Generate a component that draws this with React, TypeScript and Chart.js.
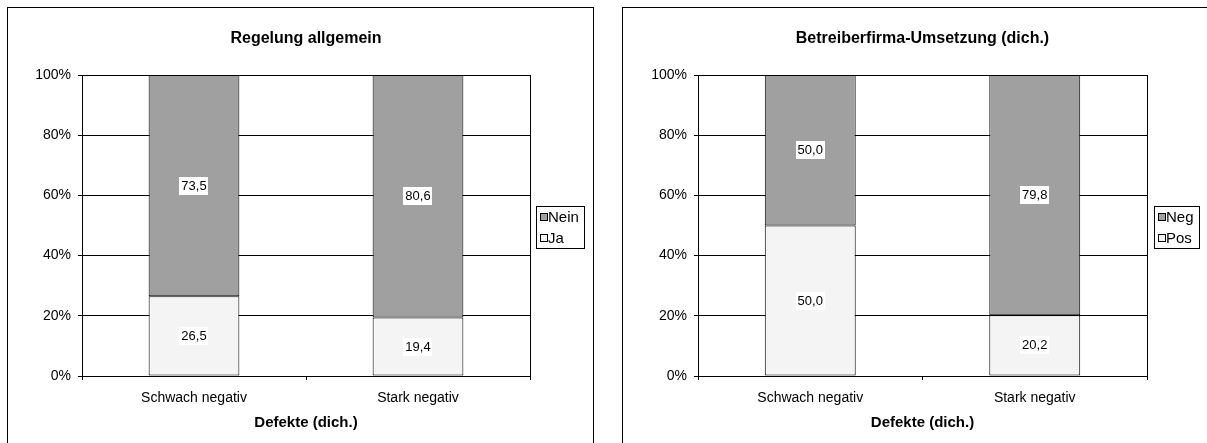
import React, { useEffect, useRef } from "react";
import { Chart, registerables } from "chart.js";

Chart.register(...registerables);

const categories = ["Schwach negativ", "Stark negativ"];
const xAxisTitle = "Defekte (dich.)";
const yTickValues = [0, 20, 40, 60, 80, 100];

const leftTitle = "Regelung allgemein";
const leftLowerName = "Ja";
const leftUpperName = "Nein";
const leftLower = [26.5, 19.4];
const leftUpper = [73.5, 80.6];

const rightTitle = "Betreiberfirma-Umsetzung (dich.)";
const rightLowerName = "Pos";
const rightUpperName = "Neg";
const rightLower = [50.0, 20.2];
const rightUpper = [50.0, 79.8];

const FONT = "'Liberation Sans', Arial, sans-serif";
const DARK = "#a0a0a0";
const LIGHT = "#f4f4f4";

const excelPlugin = {
  id: "excelDecor",
  afterDatasetsDraw(chart: any) {
    const ctx = chart.ctx;
    const { left, right, top, bottom } = chart.chartArea;
    ctx.save();
    ctx.strokeStyle = "#000";
    ctx.lineWidth = 1;
    ctx.strokeRect(Math.round(left) + 0.5, Math.round(top) + 0.5, Math.round(right - left), Math.round(bottom - top));
    ctx.font = "13px " + FONT;
    ctx.textAlign = "center";
    ctx.textBaseline = "middle";
    chart.data.datasets.forEach((ds: any, i: number) => {
      const meta = chart.getDatasetMeta(i);
      meta.data.forEach((bar: any, j: number) => {
        const v = ds.data[j];
        const text = v.toFixed(1).replace(".", ",");
        const cy = (bar.y + bar.base) / 2;
        const w = ctx.measureText(text).width;
        ctx.fillStyle = "#fff";
        ctx.fillRect(Math.round(bar.x - w / 2 - 2), Math.round(cy - 9), Math.round(w + 4), 18);
        ctx.fillStyle = "#000";
        ctx.fillText(text, bar.x, cy + 0.5);
      });
    });
    ctx.restore();
  },
  afterDraw(chart: any) {
    const ctx = chart.ctx;
    const opts = chart.options.plugins.excelDecor;
    const { left, right, top, bottom } = chart.chartArea;
    ctx.save();
    ctx.font = "bold 16px " + FONT;
    ctx.fillStyle = "#000";
    ctx.textAlign = "center";
    ctx.textBaseline = "middle";
    ctx.fillText(opts.title, (left + right) / 2, 31);
    const items = opts.legend as { label: string; color: string }[];
    ctx.font = "15px " + FONT;
    let maxW = 0;
    items.forEach((it) => (maxW = Math.max(maxW, ctx.measureText(it.label).width)));
    const bw = Math.round(maxW + 17);
    const bh = 42;
    const bx = Math.round(right) + opts.gap;
    const by = Math.round((top + bottom) / 2 - 20);
    ctx.fillStyle = "#fff";
    ctx.fillRect(bx, by, bw, bh);
    ctx.strokeStyle = "#000";
    ctx.lineWidth = 1;
    ctx.strokeRect(bx + 0.5, by + 0.5, bw, bh);
    items.forEach((it, k) => {
      const cy = by + 11 + k * 21;
      ctx.fillStyle = it.color;
      ctx.fillRect(bx + 4, cy - 3, 7, 7);
      ctx.strokeStyle = "#000";
      ctx.strokeRect(bx + 4.5, cy - 3.5, 7, 7);
      ctx.fillStyle = "#000";
      ctx.textAlign = "left";
      ctx.textBaseline = "middle";
      ctx.fillText(it.label, bx + 12, cy + 1);
    });
    ctx.restore();
  },
};

type PanelProps = {
  left: number;
  width: number;
  title: string;
  lower: number[];
  upper: number[];
  lowerName: string;
  upperName: string;
  yAxisWidth: number;
  rightPad: number;
  gap: number;
};

function Panel(p: PanelProps) {
  const ref = useRef<HTMLCanvasElement | null>(null);
  const cw = p.width - 2;
  const ch = 460;
  useEffect(() => {
    if (!ref.current) return;
    const common = {
      borderColor: "#000",
      borderWidth: 1,
      borderSkipped: false,
      barPercentage: 0.405,
      categoryPercentage: 1,
    };
    const chart = new Chart(ref.current, {
      type: "bar",
      data: {
        labels: categories,
        datasets: [
          { label: p.lowerName, data: p.lower, backgroundColor: LIGHT, ...common },
          { label: p.upperName, data: p.upper, backgroundColor: DARK, ...common },
        ],
      },
      options: {
        responsive: false,
        animation: false,
        devicePixelRatio: 1,
        layout: { padding: { top: 67, right: p.rightPad, bottom: 32, left: 0 } },
        plugins: {
          legend: { display: false },
          tooltip: { enabled: false },
          excelDecor: {
            title: p.title,
            gap: p.gap,
            legend: [
              { label: p.upperName, color: DARK },
              { label: p.lowerName, color: LIGHT },
            ],
          },
        } as any,
        scales: {
          x: {
            stacked: true,
            offset: true,
            grid: {
              offset: true,
              drawOnChartArea: false,
              drawTicks: true,
              tickLength: 4,
              color: "#000",
            },
            border: { display: true, color: "#000", width: 1 },
            ticks: {
              color: "#000",
              font: { family: FONT, size: 14 },
              padding: 10,
              maxRotation: 0,
            },
            title: {
              display: true,
              text: xAxisTitle,
              color: "#000",
              font: { family: FONT, size: 15, weight: "bold" },
              padding: { top: 2, bottom: 4 },
            },
            afterFit(scale: any) {
              scale.height = 60;
            },
          },
          y: {
            stacked: true,
            min: 0,
            max: 100,
            afterBuildTicks(scale: any) {
              scale.ticks = yTickValues.map((v) => ({ value: v }));
            },
            grid: {
              color: "#000",
              drawTicks: true,
              tickLength: 4,
            },
            border: { display: true, color: "#000", width: 1 },
            ticks: {
              color: "#000",
              font: { family: FONT, size: 14 },
              padding: 7,
              callback: (v: any) => v + "%",
            },
            afterFit(scale: any) {
              scale.width = p.yAxisWidth;
            },
          },
        },
      },
      plugins: [excelPlugin as any],
    });
    return () => chart.destroy();
  }, []);
  return (
    <div
      style={{
        position: "absolute",
        left: p.left,
        top: 7,
        width: p.width - 2,
        height: ch,
        border: "1px solid #000",
        background: "#fff",
      }}
    >
      <canvas ref={ref} width={cw} height={ch} style={{ display: "block", width: cw, height: ch }} />
    </div>
  );
}

export default function App() {
  return (
    <div style={{ position: "fixed", left: 0, top: 0, width: 1207, height: 443, overflow: "hidden", background: "#fff" }}>
      <Panel
        left={7}
        width={587}
        title={leftTitle}
        lower={leftLower}
        upper={leftUpper}
        lowerName={leftLowerName}
        upperName={leftUpperName}
        yAxisWidth={74}
        rightPad={585 - 522}
        gap={6}
      />
      <Panel
        left={622}
        width={586}
        title={rightTitle}
        lower={rightLower}
        upper={rightUpper}
        lowerName={rightLowerName}
        upperName={rightUpperName}
        yAxisWidth={75}
        rightPad={584 - 524}
        gap={7}
      />
    </div>
  );
}
